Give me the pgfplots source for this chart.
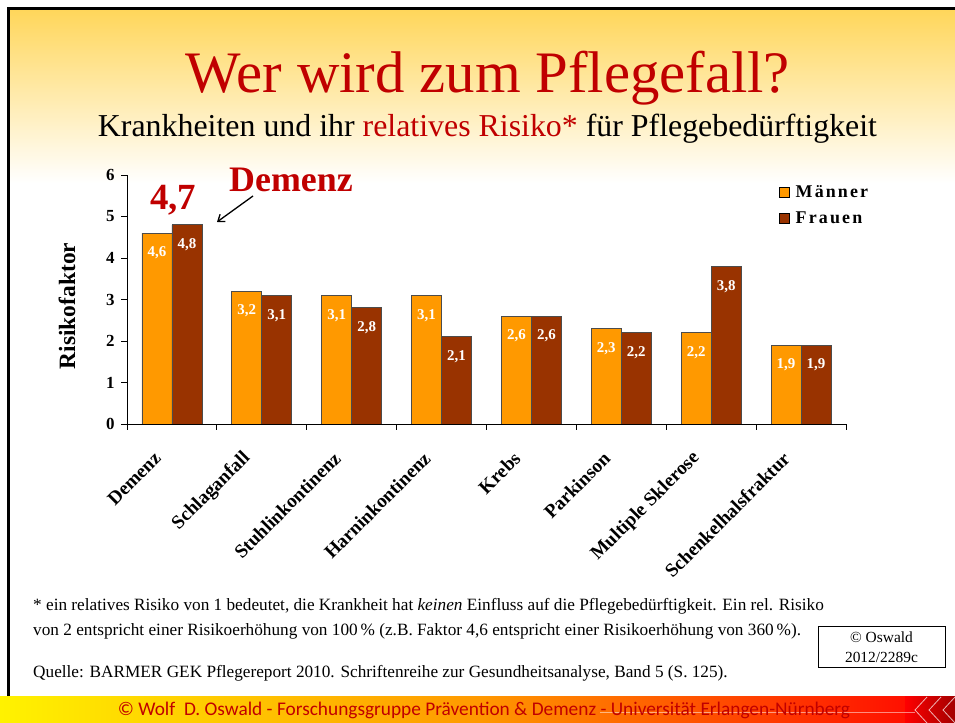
\documentclass[border=0pt]{standalone}
\usepackage{fontspec}
\setmainfont{Liberation Serif}
\newfontfamily\carlito{Carlito}
\usepackage{pgfplots}
\pgfplotsset{compat=1.18}
\usetikzlibrary{arrows.meta}
\definecolor{titlered}{HTML}{C00000}
\definecolor{maenner}{HTML}{FF9900}
\definecolor{frauen}{HTML}{993300}
\definecolor{gold}{HTML}{FFD65A}
\begin{document}
\begin{tikzpicture}[x=1bp,y=1bp]
\useasboundingbox (0,0) rectangle (955,723);
\fill[white] (0,0) rectangle (955,723);
% header gradient
\shade[top color=gold, bottom color=white] (9,540) rectangle (955,714);
% border
\draw[black, line width=2.5bp] (8.5,26) -- (8.5,714.5) -- (955,714.5);
% footer
\shade[left color=yellow!90!orange, right color=red, middle color=maenner] (0,0) rectangle (955,26);
\shade[left color=red, right color=titlered!85!black] (905,0) rectangle (955,26);
\draw[white, opacity=0.5, line width=0.6bp] (600,11) -- (915,11);
\foreach \x in {915,929,943}{
  \draw[white, opacity=0.7, line width=0.8bp] (\x+12,26) -- (\x,13) -- (\x+12,0);
}
\node[anchor=base, inner sep=0, text=titlered, font=\carlito\fontsize{19.4}{21}\selectfont] at (484,7) {© Wolf\ \ D. Oswald - Forschungsgruppe Prävention \& Demenz - Universität Erlangen-Nürnberg};
% titles
\node[anchor=base, inner sep=0, text=titlered, font=\fontsize{59}{61}\selectfont] at (488,630) {Wer wird zum Pflegefall?};
\node[anchor=base, inner sep=0, font=\fontsize{32}{34}\selectfont] at (487.5,586) {Krankheiten und ihr \textcolor{titlered}{relatives Risiko*} für Pflegebedürftigkeit};
% annotations
\node[anchor=base west, inner sep=0, text=titlered, font=\bfseries\fontsize{36}{40}\selectfont] at (229,531) {Demenz};
\node[anchor=base west, inner sep=0, text=titlered, font=\bfseries\fontsize{37}{40}\selectfont] at (150,513) {4,7};
\draw[-{Straight Barb[length=6bp,width=9bp]}, line width=1.3bp] (253,527) -- (217,501);
% footnote
\begin{scope}[every node/.style={anchor=base west, inner sep=0, font=\fontsize{17.3}{19}\selectfont}]
\node at (33,112) {* ein relatives Risiko von 1 bedeutet, die Krankheit hat \textit{keinen} Einfluss auf die Pflegebedürftigkeit. Ein rel. Risiko};
\node at (33,87) {von 2 entspricht einer Risikoerhöhung von 100\,\% (z.B. Faktor 4,6 entspricht einer Risikoerhöhung von 360\,\%).};
\node at (33,45) {Quelle: BARMER GEK Pflegereport 2010. Schriftenreihe zur Gesundheitsanalyse, Band 5 (S. 125).};
\end{scope}
\draw[line width=0.8bp] (818,56) rectangle (945,97);
\node[anchor=base, inner sep=0, font=\fontsize{15.5}{17}\selectfont] at (881.5,80) {© Oswald};
\node[anchor=base, inner sep=0, font=\fontsize{15.5}{17}\selectfont] at (881.5,60) {2012/2289c};
% chart
\begin{axis}[
  at={(127bp,299bp)}, anchor=south west,
  scale only axis, width=719bp, height=249bp,
  xmin=0, xmax=8, ymin=0, ymax=6,
  axis lines=left, axis line style={-, line width=0.8bp},
  tick align=outside,
  ytick={0,...,6},
  major tick length=6bp, minor tick length=6bp,
  every tick/.style={black, line width=0.8bp},
  xtick={0.5,1.5,...,7.5},
  xticklabels={Demenz,Schlaganfall,Stuhlinkontinenz,Harninkontinenz,Krebs,Parkinson,Multiple Sklerose,Schenkelhalsfraktur},
  major x tick style={draw=none},
  minor xtick={0,...,8},
  /pgf/number format/assume math mode=true,
  xticklabel style={xshift=-12bp, yshift=-23bp, rotate=45, anchor=east, font=\bfseries\fontsize{19.3}{20}\selectfont},
  yticklabel style={font=\bfseries\fontsize{17}{17}\selectfont, xshift=-3bp},
  every axis y label/.style={at={(axis description cs:-0.0834,0.474)}, rotate=90, anchor=center},
  ylabel={\bfseries\fontsize{23.5}{25}\selectfont Risikofaktor},
  ybar=0pt, bar width=30bp,
  nodes near coords={\pgfmathprintnumber[use comma,fixed,fixed zerofill,precision=1,assume math mode=true]{\pgfplotspointmeta}},
  every node near coord/.append style={anchor=center, yshift=-20bp, text=white, font=\bfseries\fontsize{15}{16}\selectfont},
  legend style={at={(axis description cs:0.9065,0.965)}, anchor=north west, draw=none, fill=none, font=\bfseries\fontsize{18}{19}\selectfont\addfontfeatures{LetterSpace=12}, row sep=8bp, inner sep=0pt},
  legend cell align=left,
  legend image code/.code={\draw[#1, draw=black, line width=0.6bp] (0bp,-5bp) rectangle (10bp,5bp); \path (14bp,0bp);},
]
\addplot[fill=maenner, draw=black!70, line width=0.8bp] coordinates {(0.5,4.6) (1.5,3.2) (2.5,3.1) (3.5,3.1) (4.5,2.6) (5.5,2.3) (6.5,2.2) (7.5,1.9)};
\addplot[fill=frauen, draw=black!70, line width=0.8bp] coordinates {(0.5,4.8) (1.5,3.1) (2.5,2.8) (3.5,2.1) (4.5,2.6) (5.5,2.2) (6.5,3.8) (7.5,1.9)};
\legend{Männer,Frauen}
\end{axis}
\end{tikzpicture}
\end{document}
